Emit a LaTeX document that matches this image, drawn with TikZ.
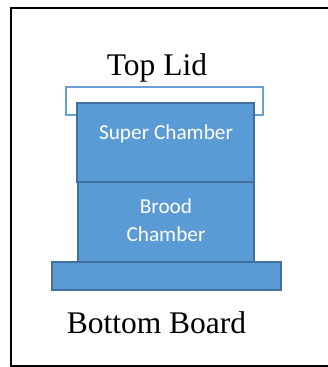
\documentclass[tikz,border=0pt]{standalone}
\usepackage{fontspec}
\setmainfont{Liberation Serif}
\newfontfamily\calib{Carlito}
\definecolor{boxfill}{HTML}{5B9BD5}
\definecolor{boxedge}{HTML}{41719C}
\definecolor{lidedge}{HTML}{6A9FD4}
\begin{document}
\begin{tikzpicture}[x=1pt,y=-1pt,
  part/.style={draw=boxedge,fill=boxfill,line width=2pt},
  inlabel/.style={font=\calib\fontsize{21.3}{28}\selectfont,text=white,align=center,anchor=base,inner sep=0pt},
  outlabel/.style={font=\fontsize{31.5}{36}\selectfont,anchor=base,inner sep=0pt}]
\useasboundingbox (0,0) rectangle (328,367);
% frame (open at the right edge)
\draw[line width=2.2pt] (340,8) -- (11,8) -- (11,366) -- (340,366);
% lid
\draw[draw=lidedge,fill=white,line width=2pt] (66,87) rectangle (263,115);
\node[outlabel] (lid) at (157,75) {Top Lid};
% super chamber
\draw[part] (77,103) rectangle (254,182);
\node[inlabel] (super) at (166,139) {Super Chamber};
% brood chamber
\draw[part] (78,182) rectangle (254,262);
\node[inlabel] (brood) at (166,241) {Brood\\Chamber};
% bottom board
\draw[part] (52,262) rectangle (281,290);
\node[outlabel] (board) at (156.5,333) {Bottom Board};
\end{tikzpicture}
\end{document}
